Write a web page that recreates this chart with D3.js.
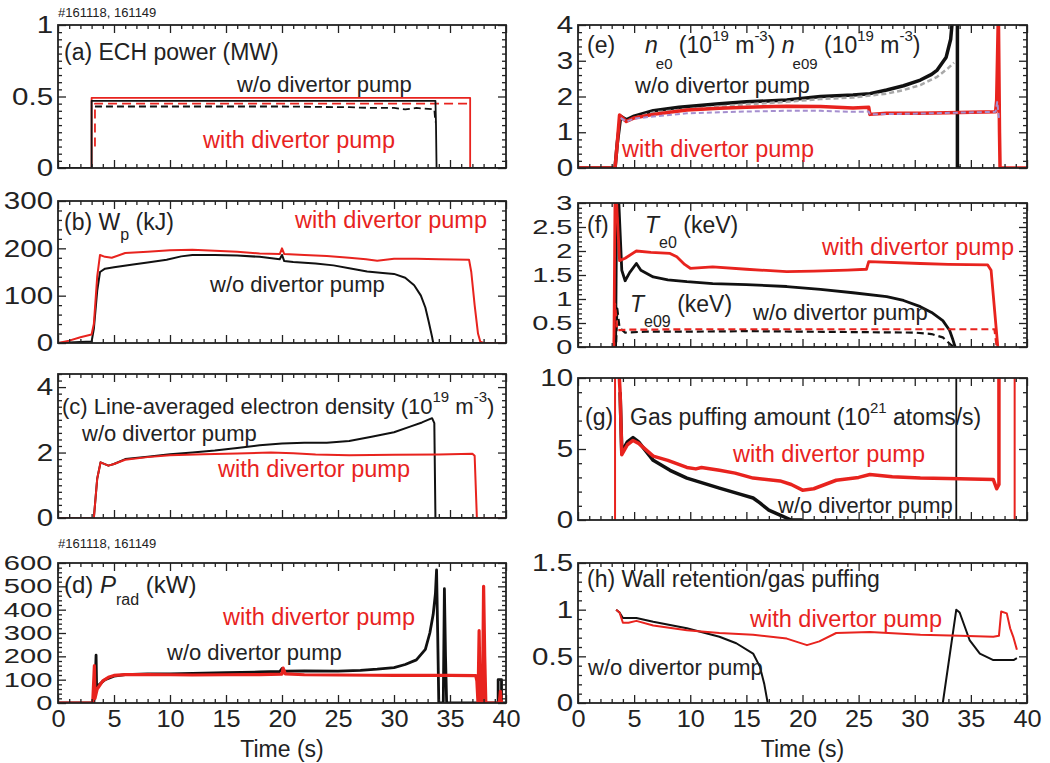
<!DOCTYPE html>
<html><head><meta charset="utf-8">
<script src="https://cdn.jsdelivr.net/npm/d3@7"></script>
<style>
body{margin:0;background:#fff}
text{font-family:"Liberation Sans",Arial,Helvetica,sans-serif;fill:#222}
</style>
</head><body>
<svg id="c" width="1050" height="763"></svg>
<script>
// ---------------- axes / ticks ----------------
const xDomain = [0, 40];
const xMajor = [0, 5, 10, 15, 20, 25, 30, 35, 40];
const xLabels = ["0","5","10","15","20","25","30","35","40"];
const xMinorStep = 1;

const yMajorA = [0, 0.5, 1],      yLabelsA = ["0","0.5","1"];
const yMajorB = [0, 100, 200, 300], yLabelsB = ["0","100","200","300"];
const yMajorC = [0, 2, 4],        yLabelsC = ["0","2","4"];
const yMajorD = [0,100,200,300,400,500,600], yLabelsD = ["0","100","200","300","400","500","600"];
const yMajorE = [0,1,2,3,4],      yLabelsE = ["0","1","2","3","4"];
const yMajorF = [0,0.5,1,1.5,2,2.5,3], yLabelsF = ["0","0.5","1","1.5","2","2.5","3"];
const yMajorG = [0,5,10],         yLabelsG = ["0","5","10"];
const yMajorH = [0,0.5,1,1.5],    yLabelsH = ["0","0.5","1","1.5"];

// ---------------- data (time s, value) ----------------
// (a) ECH power (MW)
const echWoSolid   = [[0,0],[3.0,0],[3.0,0.47],[33.7,0.47],[33.75,0.3],[33.8,0],[40,0]];
const echWithSolid = [[0,0],[3.0,0],[3.0,0.49],[36.8,0.49],[36.8,0],[40,0]];
const echWoDash    = [[3.3,0.43],[10,0.43],[20,0.43],[26,0.425],[28,0.42],[30,0.42],[31,0.41],[32,0.42],[33.6,0.41],[33.7,0.32]];
const echWithDash  = [[3.3,0.15],[3.3,0.45],[36.9,0.45]];

// (b) Wp (kJ)
const wpWith = [[0,0],[1,5],[2,12],[3.0,18],[3.2,40],[3.5,140],[3.75,186],[4.2,182],[4.8,180],[6,190],[8,193],[10,196],[12,197],[14,195],[16,193],[18,189],[19.8,188],[20,200],[20.2,188],[22,186],[24,184],[26,180],[27.5,177],[28.5,174],[30,178],[32,178],[34,177],[36.7,176],[36.9,150],[37.2,80],[37.5,20],[37.7,3],[38,0],[40,0]];
const wpWo = [[0,0],[3.0,3],[3.2,30],[3.5,110],[3.75,150],[4.2,157],[5,160],[6.7,166],[8,170],[9.7,176],[11,183],[12,186],[14,186],[16,185],[18,182],[19.8,177],[20,186],[20.2,173],[21,171],[23,168],[24.6,164],[26,158],[27.6,151],[29,148],[30,146],[31,138],[31.8,122],[32.4,100],[32.8,75],[33.1,45],[33.4,13],[33.5,0],[40,0]];

// (c) line-averaged density (1e19 m^-3)
const neWo = [[0,0],[3.2,0],[3.5,1.2],[3.8,1.7],[4.5,1.6],[5,1.65],[6,1.8],[8,1.87],[10,1.95],[12,2.0],[14,2.06],[16,2.14],[18,2.22],[20,2.28],[22,2.3],[24,2.3],[26,2.35],[28,2.48],[30,2.62],[31.5,2.8],[32.5,2.92],[33.4,3.05],[33.6,2.9],[33.7,0],[40,0]];
const neWith = [[0,0],[3.2,0],[3.5,1.2],[3.8,1.7],[4.5,1.6],[5,1.65],[6,1.78],[8,1.86],[10,1.92],[13,1.95],[16,1.97],[19,2.0],[21,1.98],[23,1.94],[26,1.92],[30,1.93],[34,1.94],[37,1.96],[37.2,1.9],[37.4,0],[40,0]];

// (d) Prad (kW)
const pradWo = [[0,0],[3.2,0],[3.3,60],[3.4,205],[3.45,60],[3.7,80],[4.2,100],[5,115],[6,122],[8,125],[10,125],[12,127],[15,130],[18,133],[19.8,135],[20,148],[20.2,136],[22,138],[25,137],[27,140],[28.5,145],[30,152],[31,165],[32,185],[32.8,230],[33.2,300],[33.5,380],[33.7,470],[33.8,570],[33.9,300],[34,0],[34.4,0],[34.5,490],[34.6,200],[34.7,0],[39.3,0],[39.3,100],[39.6,100],[39.6,0],[40,0]];
const pradWith = [[0,0],[3.1,0],[3.25,160],[3.3,20],[3.5,60],[4,95],[4.5,110],[5,118],[6,122],[8,122],[10,121],[12,120],[15,121],[18,122],[20,124],[20.1,150],[20.3,125],[22,121],[25,120],[28,119],[30,118],[32,118],[35,118],[37.3,117],[37.4,95],[37.5,0],[37.6,310],[37.7,0],[37.9,0],[38.0,500],[38.1,200],[38.2,0],[39.4,0],[39.5,50],[39.6,0]];

// (e) ne0 / ne09 (1e19 m^-3)
const ne0Wo = [[0,0],[3.3,0],[3.5,0.7],[3.8,1.45],[4.3,1.35],[5,1.45],[6.7,1.6],[9,1.7],[12.6,1.8],[15,1.85],[18.6,1.9],[21.6,2.0],[24.5,2.04],[26,2.08],[27.5,2.18],[29,2.3],[30.5,2.46],[31.5,2.62],[32,2.74],[32.8,3.1],[33.2,3.6],[33.4,4.3]];
const ne0WoDrop = [[33.8,4.3],[33.8,0],[34.1,0]];
const ne09Wo = [[3.8,1.4],[4.3,1.3],[5,1.4],[6.7,1.55],[9,1.62],[12.6,1.72],[15,1.78],[18.6,1.85],[21.6,1.93],[24.5,1.97],[27.5,2.08],[29,2.18],[30.5,2.32],[32,2.55],[33,2.8],[33.5,2.95]];
const ne0With = [[0,0],[3.3,0],[3.5,0.7],[3.7,1.48],[4.3,1.3],[5,1.4],[6.7,1.5],[9.7,1.62],[12.6,1.67],[15,1.7],[18.6,1.73],[21.6,1.72],[24.5,1.68],[25.9,1.7],[26,1.5],[27.5,1.53],[30.5,1.53],[34,1.55],[37.2,1.57],[37.3,1.9],[37.45,4.3],[37.55,1],[37.6,0],[40,0]];
const ne09With = [[3.8,1.4],[4.3,1.3],[5,1.38],[7,1.45],[9.7,1.53],[12.6,1.56],[15,1.58],[18.6,1.6],[21.6,1.6],[24.5,1.57],[25.9,1.58],[26,1.5],[30,1.52],[34,1.55],[37.2,1.57],[37.35,1.85],[37.5,1.4]];

// (f) Te0 / Te09 (keV)
const te0Wo = [[3.35,0],[3.45,3.2],[3.6,3.2],[3.9,1.6],[4.2,1.38],[4.6,1.55],[5.2,1.74],[5.6,1.6],[6.7,1.46],[8,1.4],[9.7,1.36],[12,1.32],[15,1.3],[18.6,1.26],[21.6,1.2],[24.5,1.13],[27.5,1.05],[29,0.97],[30.5,0.84],[31.5,0.72],[32.5,0.55],[33.1,0.35],[33.4,0.15],[33.6,0]];
const te0With = [[3.2,0],[3.3,3.2],[3.4,3.2],[3.7,1.8],[4.2,1.85],[5.2,2.0],[6.5,1.97],[8.2,1.95],[8.8,1.88],[9.5,1.72],[10,1.64],[12,1.67],[15,1.62],[18.6,1.57],[21,1.58],[24,1.6],[25.7,1.62],[25.9,1.78],[30.5,1.74],[33,1.72],[36.5,1.71],[36.8,1.6],[37.4,0]];
const te09Wo = [[3.4,0.1],[3.5,0.8],[3.7,0.4],[4.2,0.3],[6,0.32],[10,0.32],[15,0.33],[20,0.32],[25,0.31],[30,0.3],[31.5,0.27],[32.5,0.2],[33.2,0.05],[33.5,0]];
const te09With = [[3.2,0.1],[3.3,0.9],[3.5,0.35],[4.5,0.36],[10,0.37],[20,0.37],[30,0.37],[37.1,0.37],[37.3,0]];

// (g) gas puffing (1e21 atoms/s)
const gasWithSpike1 = [[3.3,0],[3.3,10.5]];
const gasWith = [[3.65,10.5],[3.75,9],[3.9,4.6],[4.4,5.3],[4.9,5.6],[5.4,5.4],[6.7,4.5],[8,4.2],[9.7,3.7],[10.5,3.6],[11,3.7],[12.6,3.5],[14,3.3],[15.6,2.95],[18,2.75],[19,2.5],[20,2.1],[21,2.2],[23,2.8],[25,3.0],[26,3.2],[28,3.05],[30.5,2.95],[34,2.9],[37,2.85],[37.3,2.2],[37.5,2.5],[37.5,10.5]];
const gasWithSpike2 = [[38.9,0],[38.9,10.5]];
const gasWo = [[3.75,9],[3.9,4.8],[4.4,5.5],[4.9,5.8],[5.4,5.5],[6.7,4.2],[8.2,3.5],[9.7,2.95],[12.6,2.25],[14.5,1.8],[15.6,1.55],[16.2,1.2],[17,0.7],[18,0.35],[19,0],[20,0]];
const gasWoSpike = [[33.7,0],[33.7,10.5]];

// (h) wall retention / gas puffing
const wrWith = [[3.4,1.0],[3.7,0.97],[4.0,0.86],[4.5,0.86],[5.2,0.88],[6.7,0.83],[9.7,0.78],[12.6,0.75],[15.6,0.73],[18.6,0.69],[20.4,0.62],[21.5,0.66],[23,0.75],[26,0.76],[30.5,0.73],[34,0.72],[37,0.71],[37.5,0.72],[37.7,0.98],[38.2,0.96],[38.5,0.8],[38.8,0.7],[39.1,0.57]];
const wrWo = [[3.4,1.0],[3.7,0.97],[4.0,0.91],[5.2,0.91],[6.7,0.87],[9.7,0.8],[12.6,0.71],[14.1,0.64],[15.6,0.53],[16.2,0.39],[16.6,0.2],[16.9,0]];
const wrWo2 = [[32.5,0],[33.7,1.0],[34.0,0.97],[34.9,0.67],[35.8,0.53],[37,0.46],[38.8,0.46],[39.1,0.48]];

// ---------------- drawing ----------------
const RED = "#e8231e", BLK = "#111", GRAY = "#a8a8a8", PURP = "#a58fcf";
const svg = d3.select("#c");

const panels = [
  {id:"a", box:[58,506,25,168], y:[0,1], major:yMajorA, labels:yLabelsA, minor:0.05, xl:false, fs:24, sx:1.23, series:[
    {d:echWithSolid,c:RED,w:1.8},{d:echWithDash,c:RED,w:1.8,dash:"9,5"},
    {d:echWoDash,c:BLK,w:1.8,dash:"7,4"},{d:echWoSolid,c:BLK,w:1.8}]},
  {id:"b", box:[58,506,201,343], y:[0,300], major:yMajorB, labels:yLabelsB, minor:20, xl:false, fs:24, sx:1.23, series:[
    {d:wpWo,c:BLK,w:2},{d:wpWith,c:RED,w:2}]},
  {id:"c", box:[58,506,374,518], y:[0,4.4], major:yMajorC, labels:yLabelsC, minor:0.2, xl:false, fs:24, sx:1.23, series:[
    {d:neWo,c:BLK,w:2},{d:neWith,c:RED,w:2}]},
  {id:"d", box:[58,506,563,703], y:[0,600], major:yMajorD, labels:yLabelsD, minor:20, xl:true, fs:20.5, sx:1.42, series:[
    {d:pradWo,c:BLK,w:2.8},{d:pradWith,c:RED,w:3.2}]},
  {id:"e", box:[578,1027,25,168], y:[0,4], major:yMajorE, labels:yLabelsE, minor:0.2, xl:false, fs:24, sx:1.23, series:[
    {d:ne0Wo,c:BLK,w:3.5},{d:ne09Wo,c:GRAY,w:2.5,dash:"5,3"},{d:ne0WoDrop,c:BLK,w:3.5},
    {d:ne0With,c:RED,w:3.5},{d:ne09With,c:PURP,w:2,dash:"5,3"}]},
  {id:"f", box:[578,1027,203,347], y:[0,3], major:yMajorF, labels:yLabelsF, minor:0.1, xl:false, fs:21, sx:1.38, series:[
    {d:te0Wo,c:BLK,w:2.8},{d:te0With,c:RED,w:2.8},
    {d:te09Wo,c:BLK,w:2.2,dash:"7,4"},{d:te09With,c:RED,w:2.2,dash:"7,4"}]},
  {id:"g", box:[578,1027,378,520], y:[0,10], major:yMajorG, labels:yLabelsG, minor:1, xl:false, fs:24, sx:1.23, series:[
    {d:gasWo,c:BLK,w:3.5},{d:gasWoSpike,c:BLK,w:1.8},
    {d:gasWith,c:RED,w:3.5},{d:gasWithSpike1,c:RED,w:2},{d:gasWithSpike2,c:RED,w:2}]},
  {id:"h", box:[578,1027,563,703], y:[0,1.5], major:yMajorH, labels:yLabelsH, minor:0.1, xl:true, fs:24, sx:1.23, series:[
    {d:wrWo,c:BLK,w:2},{d:wrWo2,c:BLK,w:2},{d:wrWith,c:RED,w:2}]}
];

const near = (a,b)=>Math.abs(a-b)<1e-9;

panels.forEach(p=>{
  const [x0,x1,y0,y1] = p.box;
  const x = d3.scaleLinear().domain(xDomain).range([x0,x1]);
  const y = d3.scaleLinear().domain(p.y).range([y1,y0]);
  const g = svg.append("g");
  g.append("clipPath").attr("id","clip"+p.id).append("rect")
    .attr("x",x0).attr("y",y0).attr("width",x1-x0).attr("height",y1-y0);
  const line = d3.line().x(d=>x(d[0])).y(d=>y(d[1]));
  const lg = g.append("g").attr("clip-path",`url(#clip${p.id})`);
  p.series.forEach(s=>{
    lg.append("path").attr("d",line(s.d)).attr("fill","none")
      .attr("stroke",s.c).attr("stroke-width",s.w)
      .attr("stroke-linejoin","round")
      .attr("stroke-dasharray",s.dash||null);
  });

  const xMinor = d3.range(xDomain[0], xDomain[1]+1e-9, xMinorStep).filter(v=>!xMajor.some(m=>near(m,v)));
  const yMinor = d3.range(p.y[0], p.y[1]+1e-9, p.minor).filter(v=>!p.major.some(m=>near(m,v)));
  const clean = a=>a.attr("font-size",null).attr("font-family",null).call(s=>s.select(".domain").remove())
                    .call(s=>s.selectAll("line").attr("stroke","#222").attr("stroke-width",1.3));
  const MJ=-8, MN=-4;
  // bottom
  g.append("g").attr("transform",`translate(0,${y1})`)
    .call(d3.axisBottom(x).tickValues(xMajor).tickSize(MJ).tickPadding(8)
      .tickFormat((d,i)=>p.xl?xLabels[i]:"")).call(clean)
    .selectAll("text").attr("font-size",23).attr("transform","scale(1.1,1)");
  g.append("g").attr("transform",`translate(0,${y1})`)
    .call(d3.axisBottom(x).tickValues(xMinor).tickSize(MN).tickFormat("")).call(clean);
  // top
  g.append("g").attr("transform",`translate(0,${y0})`)
    .call(d3.axisTop(x).tickValues(xMajor).tickSize(MJ).tickFormat("")).call(clean);
  g.append("g").attr("transform",`translate(0,${y0})`)
    .call(d3.axisTop(x).tickValues(xMinor).tickSize(MN).tickFormat("")).call(clean);
  // left
  g.append("g").attr("transform",`translate(${x0},0)`)
    .call(d3.axisLeft(y).tickValues(p.major).tickSize(MJ).tickPadding(4)
      .tickFormat((d,i)=>p.labels[i])).call(clean)
    .selectAll("text").attr("font-size",p.fs).attr("transform",`scale(${p.sx},1)`);
  g.append("g").attr("transform",`translate(${x0},0)`)
    .call(d3.axisLeft(y).tickValues(yMinor).tickSize(MN).tickFormat("")).call(clean);
  // right
  g.append("g").attr("transform",`translate(${x1},0)`)
    .call(d3.axisRight(y).tickValues(p.major).tickSize(MJ).tickFormat("")).call(clean);
  g.append("g").attr("transform",`translate(${x1},0)`)
    .call(d3.axisRight(y).tickValues(yMinor).tickSize(MN).tickFormat("")).call(clean);
  // frame
  g.append("rect").attr("x",x0).attr("y",y0).attr("width",x1-x0).attr("height",y1-y0)
    .attr("fill","none").attr("stroke","#222").attr("stroke-width",1.8);
  if(p.xl){
    g.append("text").attr("x",(x0+x1)/2).attr("y",757).attr("text-anchor","middle")
      .attr("font-size",23).text("Time (s)");
  }
});

// ---------------- annotations ----------------
function rich(x, y, parts, size, color){
  const t = svg.append("text").attr("x",x).attr("y",y).attr("font-size",size);
  if(color) t.style("fill",color);
  let shift = 0;
  parts.forEach(pt=>{
    const s = pt.s||0; // baseline shift in px (positive = down)
    const ts = t.append("tspan").text(pt.t).attr("dy", s-shift);
    if(pt.fs) ts.attr("font-size",pt.fs);
    if(pt.i) ts.attr("font-style","italic");
    if(pt.dx) ts.attr("dx",pt.dx);
    shift = s;
  });
  return t;
}
const W = "w/o divertor pump", P = "with divertor pump";

// shot numbers
rich(58,17,[{t:"#161118, 161149"}],13);
rich(58,548,[{t:"#161118, 161149"}],13);

// (a)
rich(64,60,[{t:"(a) ECH power (MW)"}],23);
rich(237,92,[{t:W}],22);
rich(203,148,[{t:P}],23.5,RED);

// (b)
rich(64,230,[{t:"(b) W"},{t:"p",fs:16,s:10},{t:" (kJ)",s:0}],23);
rich(295,228,[{t:P}],23.5,RED);
rich(210,292,[{t:W}],22);

// (c)
rich(62,414,[{t:"(c) Line-averaged electron density (10"},{t:"19",fs:15,s:-12},{t:" m",s:0},{t:"-3",fs:15,s:-12},{t:")",s:0}],22);
rich(82,441,[{t:W}],22);
rich(218,477,[{t:P}],23.5,RED);

// (d)
rich(64,593,[{t:"(d) "},{t:"P",i:true},{t:"rad",fs:16,s:12},{t:" (kW)",s:0}],24);
rich(223,625,[{t:P}],23.5,RED);
rich(167,660,[{t:W}],22);

// (e)
rich(587,53,[{t:"(e)"}],23);
rich(645,53,[{t:"n",i:true},{t:"e0",fs:15,s:16,dx:-2},{t:" (10",s:0},{t:"19",fs:15,s:-12},{t:" m",s:0},{t:"-3",fs:15,s:-12},{t:")",s:0},
            {t:" n",i:true},{t:"e09",fs:15,s:16,dx:-2},{t:" (10",s:0},{t:"19",fs:15,s:-12},{t:" m",s:0},{t:"-3",fs:15,s:-12},{t:")",s:0}],23);
rich(635,93,[{t:W}],22);
rich(622,157,[{t:P}],23.5,RED);

// (f)
rich(587,233,[{t:"(f)"}],23);
rich(645,233,[{t:"T",i:true},{t:"e0",fs:16,s:15},{t:" (keV)",s:0}],23);
rich(630,312,[{t:"T",i:true},{t:"e09",fs:16,s:15},{t:" (keV)",s:0}],23);
rich(822,255,[{t:P}],23.5,RED);
rich(753,320,[{t:W}],22);

// (g)
rich(585,425,[{t:"(g)"}],23);
rich(630,425,[{t:"Gas puffing amount (10"},{t:"21",fs:15,s:-12},{t:" atoms/s)",s:0}],23);
rich(733,462,[{t:P}],23.5,RED);
rich(778,513,[{t:W}],22);

// (h)
rich(587,587,[{t:"(h) Wall retention/gas puffing"}],23);
rich(750,627,[{t:P}],23.5,RED);
rich(588,675,[{t:W}],22);
</script>
</body></html>
